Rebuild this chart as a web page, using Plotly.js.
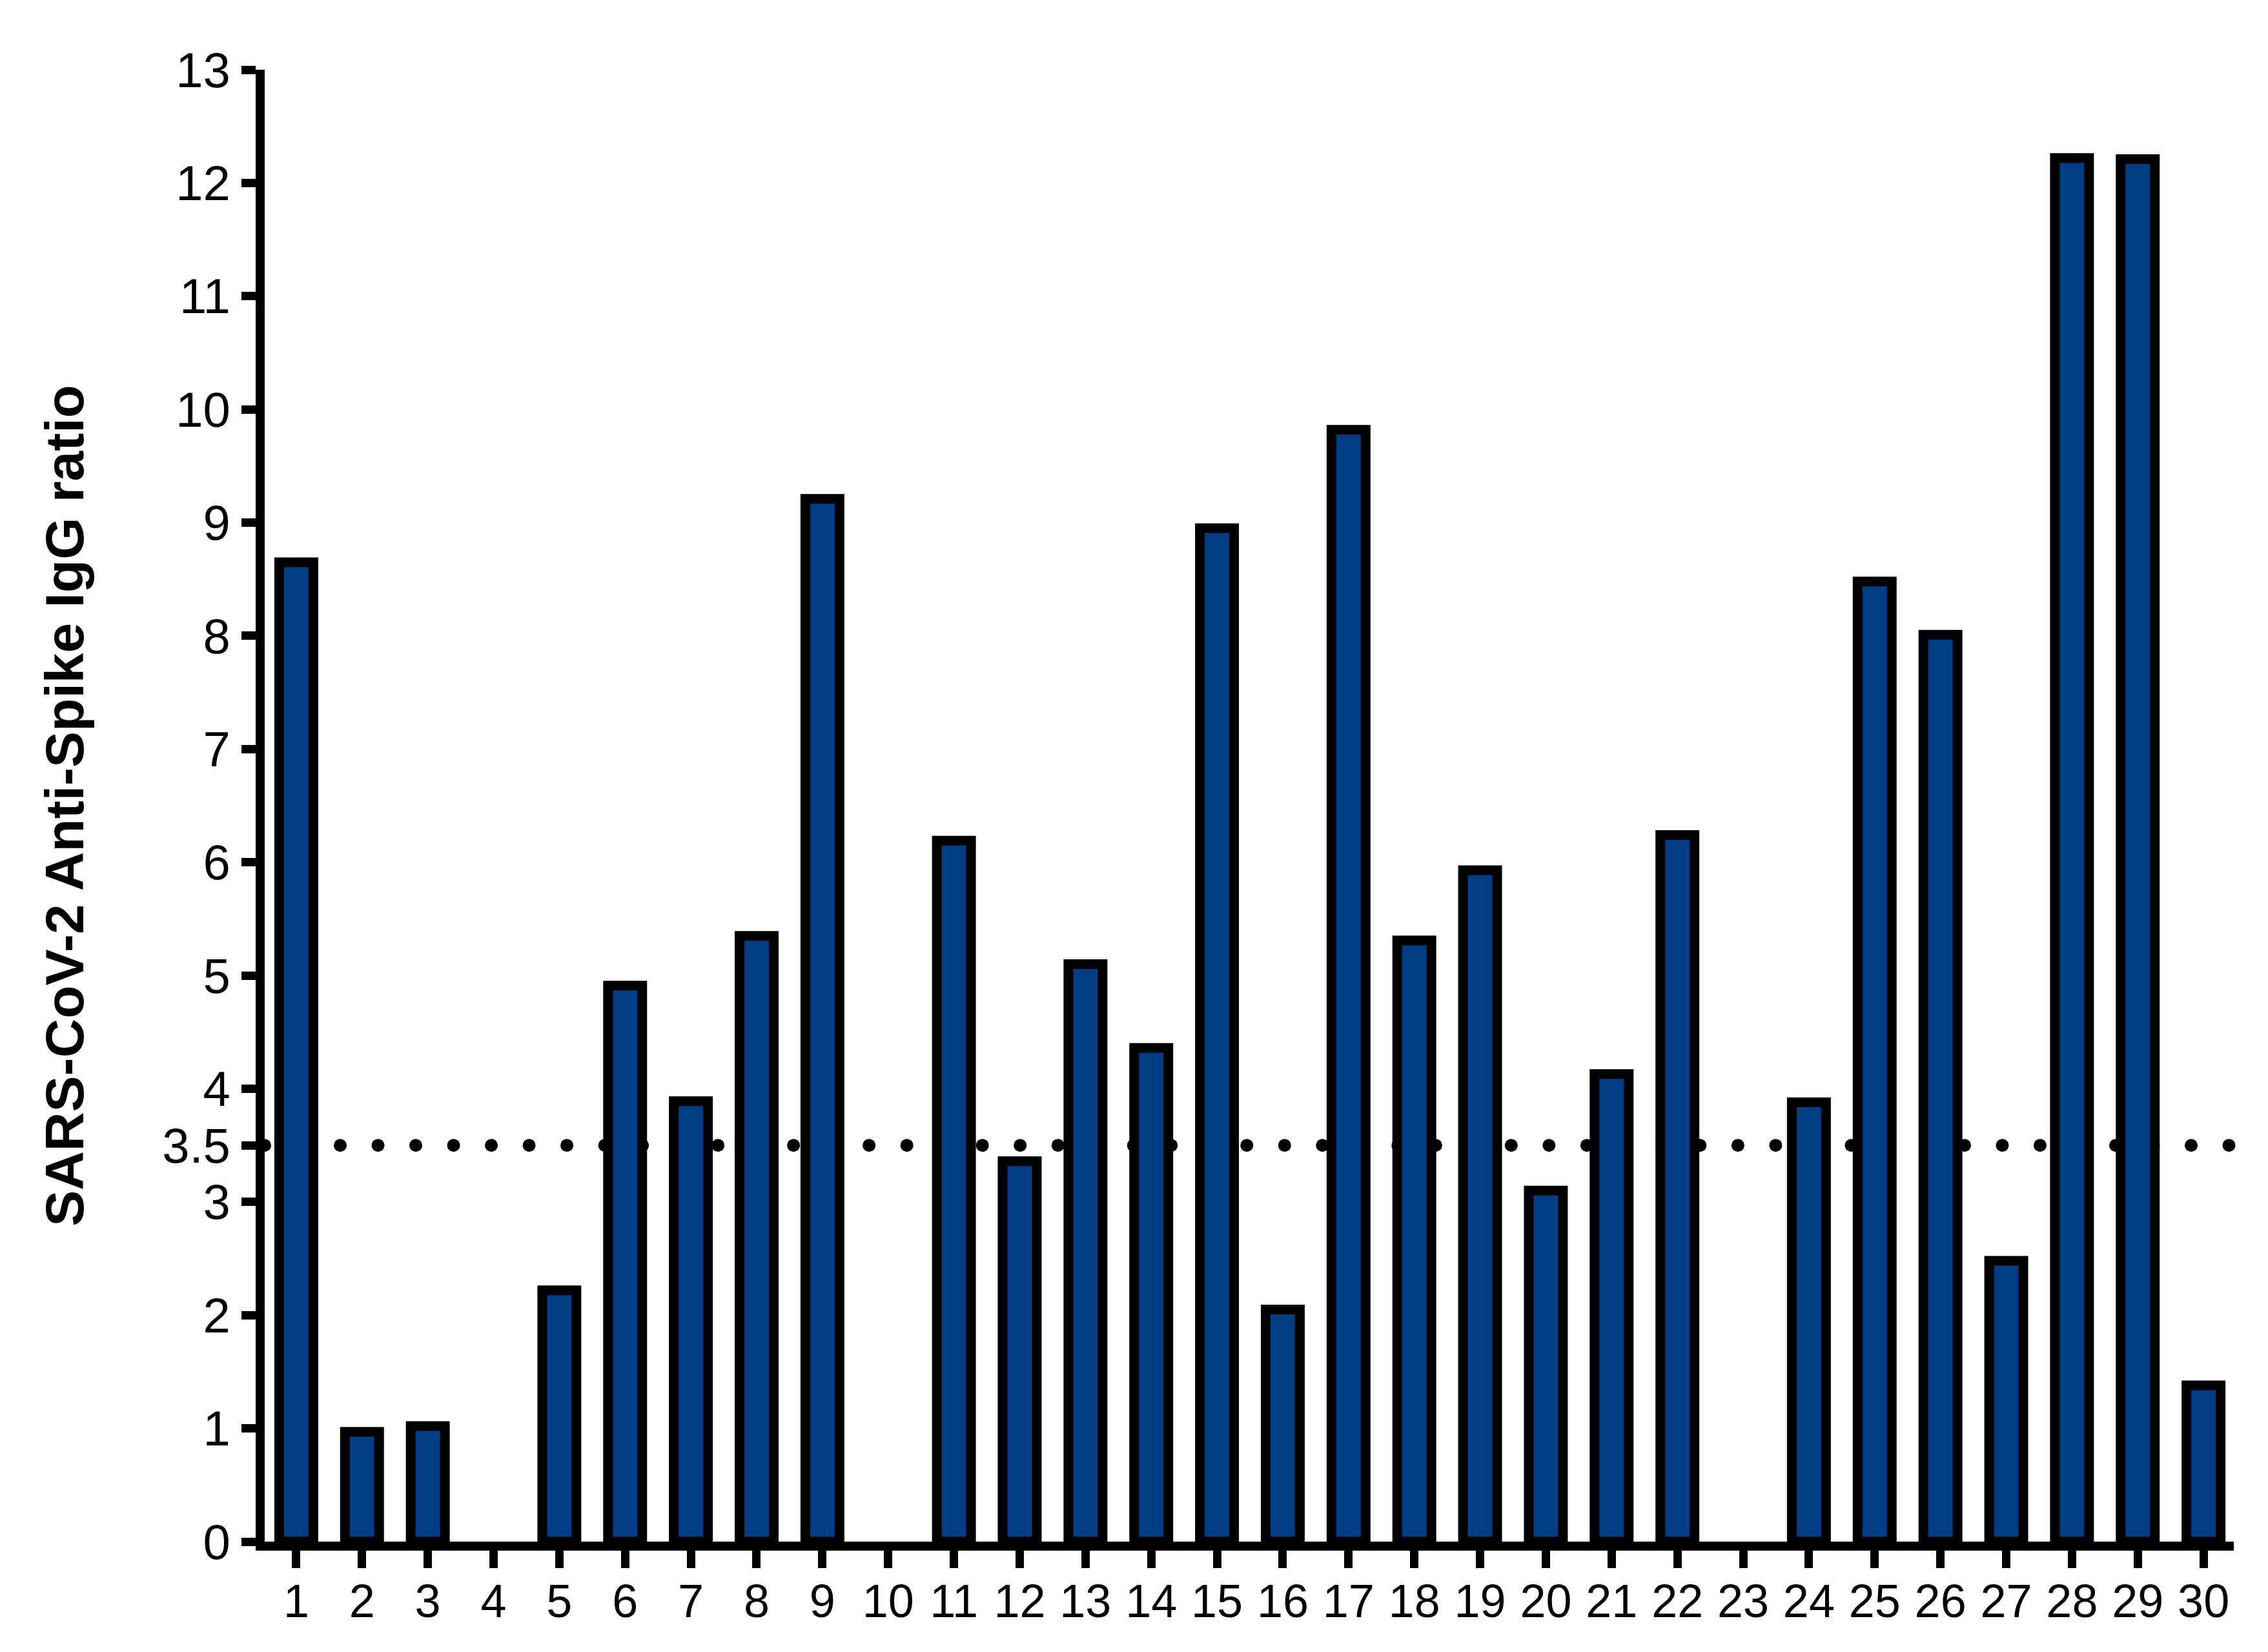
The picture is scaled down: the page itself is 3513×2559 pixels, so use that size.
<!DOCTYPE html>
<html>
<head>
<meta charset="utf-8">
<script src="https://cdn.plot.ly/plotly-3.0.1.min.js"></script>
<style>
  html, body { margin: 0; padding: 0; background: #ffffff; }
  #chart { width: 3513px; height: 2559px; }
</style>
</head>
<body>
<div id="chart"></div>
<script>
// ---- data ----
const subjects = [1, 2, 3, 4, 5, 6, 7, 8, 9, 10, 11, 12, 13, 14, 15, 16, 17, 18, 19, 20, 21, 22, 23, 24, 25, 26, 27, 28, 29, 30];
const iggRatio = [8.65, 0.97, 1.02, 0, 2.22, 4.91, 3.89, 5.35, 9.21, 0,
                  6.19, 3.36, 5.10, 4.36, 8.95, 2.05, 9.82, 5.31, 5.93, 3.10,
                  4.13, 6.24, 0, 3.88, 8.48, 8.01, 2.48, 12.22, 12.21, 1.38];
const threshold = 3.5;
const yTickVals = [0, 1, 2, 3, 3.5, 4, 5, 6, 7, 8, 9, 10, 11, 12, 13];
const yTickText = ['0', '1', '2', '3', '3.5', '4', '5', '6', '7', '8', '9', '10', '11', '12', '13'];
const xTickText = subjects.map(String);
const yTitle = 'SARS-CoV-2 Anti-Spike IgG ratio';

const FONT = 'Liberation Sans, Arial, Helvetica, sans-serif';

const trace = {
  type: 'bar',
  x: subjects,
  y: iggRatio,
  marker: {
    color: 'rgb(1,61,133)',
    // zero-valued bars show no outline stub, as in the original figure
    line: { color: '#000000', width: iggRatio.map(v => (v > 0 ? 15 : 0)) }
  },
  hoverinfo: 'x+y'
};

const layout = {
  width: 3513,
  height: 2559,
  paper_bgcolor: '#ffffff',
  plot_bgcolor: '#ffffff',
  showlegend: false,
  bargap: 0.48,
  margin: { l: 410, r: 53, t: 108, b: 171, pad: 0 },
  font: { family: FONT, color: '#000000', size: 74 },
  xaxis: {
    type: 'linear',
    range: [0.52, 30.46],
    tickmode: 'array',
    tickvals: subjects,
    ticktext: xTickText,
    showgrid: false,
    zeroline: false,
    showline: true,
    linecolor: '#000000',
    linewidth: 14,
    ticks: 'outside',
    ticklen: 27,
    tickwidth: 13,
    tickcolor: '#000000',
    tickfont: { family: FONT, size: 72, color: '#000000' },
    ticklabelstandoff: -10
  },
  yaxis: {
    range: [0, 13],
    tickmode: 'array',
    tickvals: yTickVals,
    ticktext: yTickText,
    showgrid: false,
    zeroline: false,
    showline: true,
    linecolor: '#000000',
    linewidth: 14,
    ticks: 'outside',
    ticklen: 22,
    tickwidth: 13,
    tickcolor: '#000000',
    tickfont: { family: FONT, size: 76, color: '#000000' },
    ticklabelstandoff: 2,
    title: {
      text: yTitle,
      font: { family: FONT, size: 84, color: '#000000', weight: 'bold' },
      standoff: 100
    }
  },
  shapes: [{
    type: 'line',
    layer: 'below',
    xref: 'paper', x0: 0, x1: 1,
    yref: 'y', y0: threshold, y1: threshold,
    line: { color: '#000000', width: 20, dash: '20px,38px' }
  }]
};

Plotly.newPlot('chart', [trace], layout, { displayModeBar: false, staticPlot: true }).then(function (gd) {
  // round dots for the threshold line
  gd.querySelectorAll('.shapelayer path').forEach(function (p) {
    p.style.strokeLinecap = 'round';
    p.style.strokeDasharray = '0.01px,58.5px';
  });
});
</script>
</body>
</html>
